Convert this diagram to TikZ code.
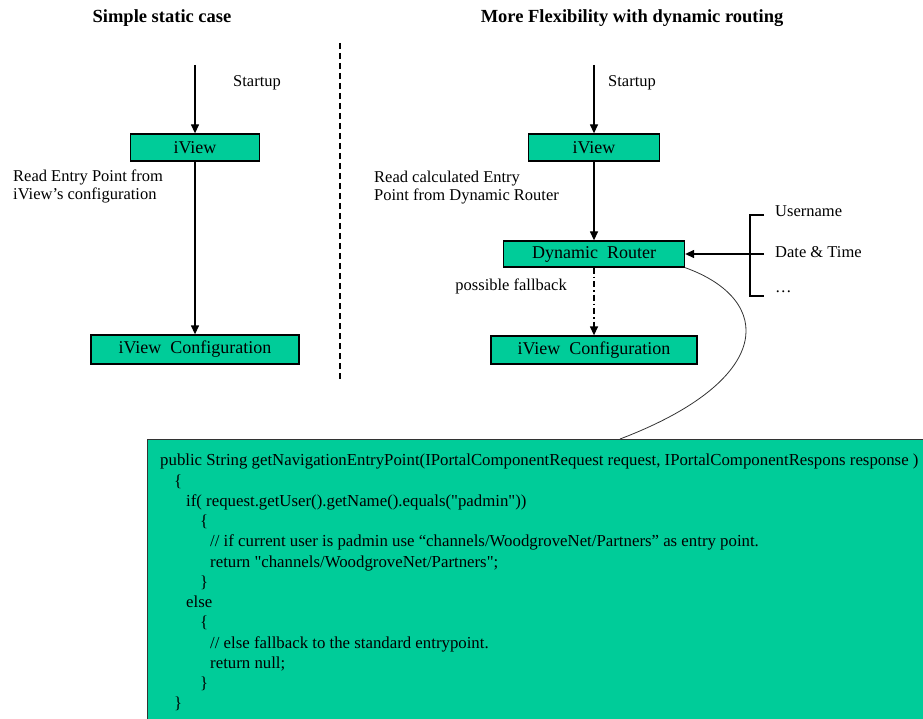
\documentclass[tikz,border=0pt]{standalone}
\usepackage{fontspec}
\setmainfont{Liberation Serif}
\usepackage{tikz}
\usetikzlibrary{arrows.meta, positioning}
\definecolor{boxgreen}{RGB}{0,204,153}

\begin{document}
\begin{tikzpicture}[x=1pt, y=-1pt,
    box/.style={draw=black, line width=1.3pt, fill=boxgreen, inner sep=0pt, font=\fontsize{18}{20}\selectfont},
    flow/.style={-{Triangle[width=8pt,length=9pt]}, line width=1.3pt},
    lbl/.style={inner sep=0pt, align=left, font=\fontsize{16.5}{18}\selectfont},
    head/.style={inner sep=0pt, font=\fontsize{18.5}{20}\selectfont\bfseries},
    codetext/.style={inner sep=0pt, align=left, font=\fontsize{16.8}{20.25}\selectfont}]

  \useasboundingbox (0,0) rectangle (923,719);

  \node[head] (titleA) at (162,18) {Simple static case};
  \node[head] (titleB) at (632,18) {More Flexibility with dynamic routing};
  \draw[dash pattern=on 6pt off 4pt, line width=1.2pt] (340,43) -- (340,382);

  % simple static case
  \coordinate (startA) at (195,65);
  \node[box, minimum width=129pt, minimum height=27pt] (viewA) at (195,147.5) {iView};
  \node[box, minimum width=208pt, minimum height=29pt] (cfgA) at (195,349.5) {iView\ \ Configuration};
  \draw[flow] (startA) -- (viewA);
  \draw[flow] (viewA) -- (cfgA);
  \node[lbl, anchor=west] (startupA) at (233,83) {Startup};
  \node[lbl, anchor=west] (readA) at (13,186) {Read Entry Point from\\iView’s configuration};

  % dynamic routing
  \coordinate (startB) at (594,65);
  \node[box, minimum width=131pt, minimum height=27pt] (viewB) at (594,147.5) {iView};
  \node[box, minimum width=181pt, minimum height=26pt] (router) at (594,254) {Dynamic\ \ Router};
  \node[box, minimum width=206pt, minimum height=28pt] (cfgB) at (594,350) {iView\ \ Configuration};
  \draw[flow] (startB) -- (viewB);
  \draw[flow] (viewB) -- (router);
  \draw[flow, dash pattern=on 6pt off 3pt on 1.5pt off 3pt] (router) -- (cfgB);
  \node[lbl, anchor=west] (startupB) at (608,83) {Startup};
  \node[lbl, anchor=west] (readB) at (374,188) {Read calculated Entry\\Point from Dynamic Router};
  \node[lbl, anchor=east] (fallback) at (567,286) {possible fallback};

  \coordinate (fork) at (750,254);
  \coordinate (userIn) at (764,215);
  \coordinate (timeIn) at (764,254);
  \coordinate (moreIn) at (764,296);
  \draw[line width=1.3pt] (userIn) -| (fork) |- (moreIn);
  \draw[flow] (timeIn) -- (router);
  \node[lbl, anchor=west] (user) at (775,211) {Username};
  \node[lbl, anchor=west] (date) at (775,252) {Date \& Time};
  \node[lbl, anchor=west] (more) at (775,292) {\dots};

  % code of the router
  \node[draw=black!80, line width=1pt, fill=boxgreen, anchor=north west, minimum width=800pt, minimum height=300pt] (code) at (147,439) {};
  \coordinate (hook) at (620,439);
  \draw[line width=0.8pt, black!80] (router.south east) .. controls (775,300) and (775,380) .. (hook);
  \node[codetext, anchor=north west] (listing) at (160,454) {public String getNavigationEntryPoint(IPortalComponentRequest request, IPortalComponentRespons response )\\
    \hspace*{14pt}\{\\
    \hspace*{26pt}if( request.getUser().getName().equals(\textquotedbl padmin\textquotedbl))\\
    \hspace*{40pt}\{\\
    \hspace*{50pt}// if current user is padmin use ``channels/WoodgroveNet/Partners'' as entry point.\\
    \hspace*{50pt}return \textquotedbl channels/WoodgroveNet/Partners\textquotedbl;\\
    \hspace*{40pt}\}\\
    \hspace*{26pt}else\\
    \hspace*{40pt}\{\\
    \hspace*{50pt}// else fallback to the standard entrypoint.\\
    \hspace*{50pt}return null;\\
    \hspace*{40pt}\}\\
    \hspace*{14pt}\}};
\end{tikzpicture}
\end{document}
